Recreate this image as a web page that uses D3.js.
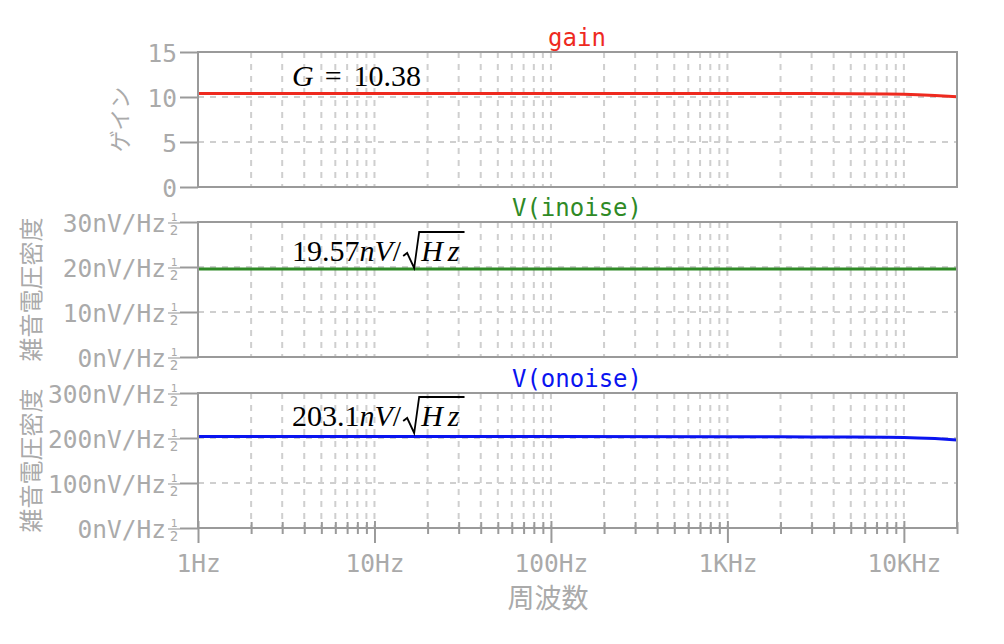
<!DOCTYPE html>
<html>
<head>
<meta charset="utf-8">
<script src="https://cdn.jsdelivr.net/npm/d3@7"></script>
<style>
  body { margin: 0; background: #fff; }
</style>
</head>
<body>
<script>
// frequency points and the three traces
const freq   = [1, 10, 100, 1000, 2000, 3000, 5000, 8000, 10000, 12000, 15000, 20000];
const gain   = [10.38, 10.38, 10.38, 10.38, 10.38, 10.38, 10.37, 10.34, 10.30, 10.25, 10.16, 10.03];
const inoise = [19.57, 19.57, 19.57, 19.57, 19.57, 19.57, 19.57, 19.57, 19.57, 19.57, 19.57, 19.57];
const onoise = [203.1, 203.1, 203.1, 203.0, 202.8, 202.4, 202.0, 201.5, 201.0, 200.2, 198.8, 195.5];

const xTickFreqs  = [1, 10, 100, 1000, 10000];
const xTickLabels = ["1Hz", "10Hz", "100Hz", "1KHz", "10KHz"];
const gainTicks   = [0, 5, 10, 15];
const inoiseTicks = [0, 10, 20, 30];
const onoiseTicks = [0, 100, 200, 300];
const titles      = ["gain", "V(inoise)", "V(onoise)"];

const MONO = "DejaVu Sans Mono";
const CJK = "Noto Sans CJK JP";
const GREY = "#aaaaaa";
const SPINE = "#9a9a9a";

const svg = d3.select("body").append("svg")
  .attr("width", 1004)
  .attr("height", 644);

const x = d3.scaleLog().domain([1, 20000]).range([198, 957]);

// minor + major decade grid positions
const gridFreqs = [];
for (let k = 0; k <= 4; k++) {
  for (let m = 1; m <= 9; m++) {
    const v = m * Math.pow(10, k);
    if (v > 1 && v <= 20000) gridFreqs.push(v);
  }
}

const panels = [
  { title: titles[0], color: "#ee2a1f", top: 52, bottom: 187, ticks: gainTicks, values: gain, unit: false,
    ylabel: "ゲイン", ylabelX: 120, ylabelSize: 22, noteBase: 86,
    note: [{ t: "G", i: true }, { gap: 11 }, { t: "=", i: false }, { gap: 12 }, { t: "10.38", i: false }] },
  { title: titles[1], color: "#2f8a26", top: 222, bottom: 357, ticks: inoiseTicks, values: inoise, unit: true,
    ylabel: "雑音電圧密度", ylabelX: 32, ylabelSize: 24, noteBase: 261,
    note: [{ t: "19.57", i: false }, { t: "nV", i: true }, { t: "/", i: false }, { gap: 2 }, { sqrt: true }, { t: "Hz", i: true }] },
  { title: titles[2], color: "#0a14f0", top: 393, bottom: 528, ticks: onoiseTicks, values: onoise, unit: true,
    ylabel: "雑音電圧密度", ylabelX: 32, ylabelSize: 24, noteBase: 426,
    note: [{ t: "203.1", i: false }, { t: "nV", i: true }, { t: "/", i: false }, { gap: 2 }, { sqrt: true }, { t: "Hz", i: true }] }
];

function drawNote(g, x0, base, parts) {
  const size = 30;
  let cx = x0;
  let sqrtStart = null;
  parts.forEach(p => {
    if (p.gap) { cx += p.gap; return; }
    if (p.sqrt) {
      sqrtStart = cx;
      cx += 18;
      return;
    }
    const t = g.append("text")
      .attr("x", cx)
      .attr("y", base)
      .attr("font-family", "Liberation Serif")
      .attr("font-size", size)
      .attr("font-style", p.i ? "italic" : "normal")
      .attr("letter-spacing", sqrtStart !== null ? 5 : 0)
      .attr("fill", "#000")
      .text(p.t);
    cx += t.node().getComputedTextLength();
  });
  if (sqrtStart !== null) {
    const top = base - 29;
    g.append("path")
      .attr("d", `M${sqrtStart},${base - 5} L${sqrtStart + 4},${base - 8} L${sqrtStart + 11},${base + 7} L${sqrtStart + 16},${top} L${cx},${top}`)
      .attr("fill", "none")
      .attr("stroke", "#000")
      .attr("stroke-width", 1.8);
  }
}

panels.forEach((p, pi) => {
  const y = d3.scaleLinear().domain([0, d3.max(p.ticks)]).range([p.bottom, p.top]);
  const g = svg.append("g");

  // dashed grid
  g.append("g").selectAll("line")
    .data(gridFreqs)
    .join("line")
    .attr("x1", d => x(d)).attr("x2", d => x(d))
    .attr("y1", p.top).attr("y2", p.bottom)
    .attr("stroke", "#cfcfcf").attr("stroke-width", 2)
    .attr("stroke-dasharray", "6,6");
  g.append("g").selectAll("line")
    .data(p.ticks)
    .join("line")
    .attr("x1", 198).attr("x2", 957)
    .attr("y1", d => y(d)).attr("y2", d => y(d))
    .attr("stroke", "#cfcfcf").attr("stroke-width", 2)
    .attr("stroke-dasharray", "6,6");

  // trace
  const line = d3.line()
    .x((d, i) => x(freq[i]))
    .y(d => y(d));
  g.append("path")
    .datum(p.values)
    .attr("d", line)
    .attr("fill", "none")
    .attr("stroke", p.color)
    .attr("stroke-width", 3);

  // frame
  g.append("rect")
    .attr("x", 198).attr("y", p.top)
    .attr("width", 957 - 198).attr("height", p.bottom - p.top)
    .attr("fill", "none")
    .attr("stroke", SPINE).attr("stroke-width", 2);

  // left axis
  const yAxis = d3.axisLeft(y)
    .tickValues(p.ticks)
    .tickSize(18)
    .tickPadding(3)
    .tickFormat(d => p.unit ? d + "nV/Hz" : d);
  const ay = g.append("g").attr("transform", "translate(198,0)").call(yAxis);
  ay.select(".domain").remove();
  ay.selectAll(".tick line").attr("stroke", SPINE).attr("stroke-width", 2);
  ay.selectAll(".tick text")
    .attr("font-family", MONO).attr("font-size", 24.5).attr("fill", GREY)
    .attr("dy", "0.4em");
  if (p.unit) {
    ay.selectAll(".tick text").attr("x", -32);
    ay.selectAll(".tick").each(function () {
      const tk = d3.select(this);
      tk.append("text").attr("x", -24).attr("y", -2)
        .attr("text-anchor", "middle").attr("font-family", MONO)
        .attr("font-size", 11).attr("fill", GREY).text("1");
      tk.append("line").attr("x1", -30).attr("x2", -18).attr("y1", 0.5).attr("y2", 0.5)
        .attr("stroke", GREY).attr("stroke-width", 1.3);
      tk.append("text").attr("x", -24).attr("y", 12)
        .attr("text-anchor", "middle").attr("font-family", MONO)
        .attr("font-size", 14).attr("fill", GREY).text("2");
    });
  }

  // title
  g.append("text")
    .attr("x", 577).attr("y", p.top - 6)
    .attr("text-anchor", "middle")
    .attr("font-family", MONO).attr("font-size", 24)
    .attr("fill", p.color)
    .text(p.title);

  // y label
  g.append("text")
    .attr("transform", `translate(${p.ylabelX},${(p.top + p.bottom) / 2}) rotate(-90)`)
    .attr("text-anchor", "middle")
    .attr("dy", "0.35em")
    .attr("font-family", CJK).attr("font-size", p.ylabelSize)
    .attr("fill", GREY)
    .text(p.ylabel);

  drawNote(g, 292, p.noteBase, p.note);

  // x axis only under the last panel
  if (pi === panels.length - 1) {
    const minorFreqs = gridFreqs.filter(v => !xTickFreqs.includes(v));
    const minorAxis = d3.axisBottom(x).tickValues(minorFreqs).tickSize(12).tickFormat("");
    const am = g.append("g").attr("transform", `translate(0,${p.bottom - 6})`).call(minorAxis);
    am.select(".domain").remove();
    am.selectAll(".tick line").attr("stroke", SPINE).attr("stroke-width", 2);

    const xAxis = d3.axisBottom(x).tickValues(xTickFreqs).tickSize(22)
      .tickFormat((d, i) => xTickLabels[i]);
    const ax = g.append("g").attr("transform", `translate(0,${p.bottom - 7})`).call(xAxis);
    ax.select(".domain").remove();
    ax.selectAll(".tick line").attr("stroke", SPINE).attr("stroke-width", 2);
    ax.selectAll(".tick text")
      .attr("y", 51).attr("dy", null)
      .attr("font-family", MONO).attr("font-size", 24.5).attr("fill", GREY);

    g.append("text")
      .attr("x", 548).attr("y", 608)
      .attr("text-anchor", "middle")
      .attr("font-family", CJK).attr("font-size", 27)
      .attr("fill", GREY)
      .text("周波数");
  }
});
</script>
</body>
</html>
